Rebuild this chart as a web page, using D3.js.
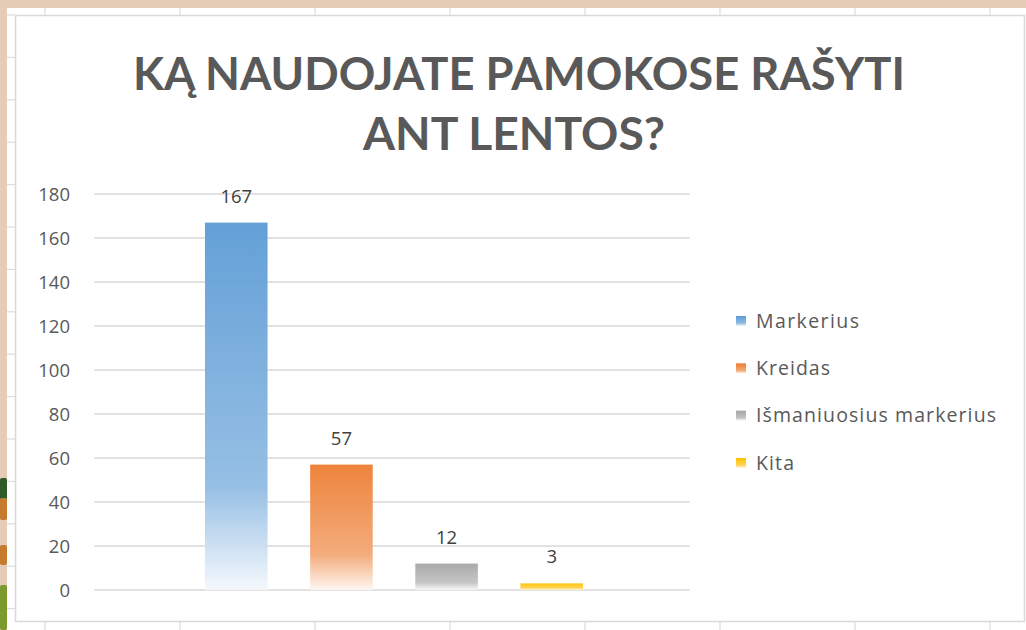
<!DOCTYPE html>
<html><head><meta charset="utf-8">
<script src="https://cdn.jsdelivr.net/npm/d3@7"></script>
<style>html,body{margin:0;padding:0;background:#fff;overflow:hidden}</style>
</head><body>
<svg id="chart" width="1026" height="630"></svg>
<script>
const titleLines = ["KĄ NAUDOJATE PAMOKOSE RAŠYTI", "ANT LENTOS?"];
const seriesNames = ["Markerius", "Kreidas", "Išmaniuosius markerius", "Kita"];
const seriesValues = [167, 57, 12, 3];
const seriesColors = ["#5b9bd5", "#ed7d31", "#a5a5a5", "#ffc000"];
const yTicks = [0, 20, 40, 60, 80, 100, 120, 140, 160, 180];

const svg = d3.select("#chart");
const defs = svg.append("defs");

// page background (slide + worksheet)
svg.append("rect").attr("x",0).attr("y",0).attr("width",1026).attr("height",630).attr("fill","#ffffff");
svg.append("rect").attr("x",0).attr("y",0).attr("width",1026).attr("height",8).attr("fill","#e4ccb6");
svg.append("rect").attr("x",0).attr("y",0).attr("width",7).attr("height",630).attr("fill","#e4ccb6");
// decorative shapes on left edge
const deco = [[478,22,"#2f5a2a"],[498,22,"#c67a2e"],[545,20,"#c67a2e"],[585,45,"#7a9a2e"]];
deco.forEach(d => svg.append("rect").attr("x",0).attr("y",d[0]).attr("width",7).attr("height",d[1]).attr("fill",d[2]).attr("rx",2));

// worksheet grid
const sheet = svg.append("g").attr("stroke","#dcdcdc").attr("stroke-width",1.2);
[45,180,315,450,585,720,855,990].forEach(x => {
  sheet.append("line").attr("x1",x).attr("x2",x).attr("y1",8).attr("y2",15);
  sheet.append("line").attr("x1",x).attr("x2",x).attr("y1",622).attr("y2",630);
});
d3.range(0,15).map(i => 15 + 42.4*i).forEach(y => {
  sheet.append("line").attr("x1",7).attr("x2",15).attr("y1",y).attr("y2",y);
});
// chart area
svg.append("rect").attr("x",15.5).attr("y",15.5).attr("width",1009).attr("height",606)
  .attr("fill","#ffffff").attr("stroke","#d9d9d9").attr("stroke-width",1.5);

// title
const title = svg.append("g").attr("font-family","Lato, 'Open Sans', sans-serif")
  .attr("font-weight","bold").attr("fill","#595959").attr("text-anchor","middle");
title.append("text").attr("x",519).attr("y",90).attr("font-size",46)
  .attr("textLength",772).attr("lengthAdjust","spacingAndGlyphs").text(titleLines[0]);
title.append("text").attr("x",514).attr("y",150).attr("font-size",46)
  .attr("textLength",302).attr("lengthAdjust","spacingAndGlyphs").text(titleLines[1]);

// scales
const y = d3.scaleLinear().domain([0,180]).range([590,194]);
const x = d3.scaleBand().domain(seriesNames).range([205,583]).paddingInner(0.405).paddingOuter(0);

// gridlines
const grid = svg.append("g");
grid.selectAll("line").data(yTicks).join("line")
  .attr("x1",94).attr("x2",690).attr("y1",d=>y(d)).attr("y2",d=>y(d))
  .attr("stroke","#d9d9d9").attr("stroke-width",1.5);

// y axis labels
const yAxis = d3.axisLeft(y).tickValues(yTicks).tickSize(0).tickPadding(0);
const ya = svg.append("g").attr("transform","translate(70,0)").call(yAxis);
ya.select(".domain").remove();
ya.selectAll("text").attr("font-family","'Open Sans', sans-serif").attr("font-size",18.5)
  .attr("fill","#595959").attr("dy","0.34em");

// gradients
function mix(c, t){ return d3.interpolateRgb(c, "#ffffff")(t); }
seriesColors.forEach((c,i) => {
  const g = defs.append("linearGradient").attr("id","g"+i).attr("x1",0).attr("y1",0).attr("x2",0).attr("y2",1);
  g.append("stop").attr("offset","0%").attr("stop-color",c);
  g.append("stop").attr("offset","72%").attr("stop-color",mix(c,0.33));
  g.append("stop").attr("offset","100%").attr("stop-color",mix(c,0.93));
});

// bars
svg.append("g").selectAll("rect").data(seriesNames).join("rect")
  .attr("x",d=>x(d)).attr("width",x.bandwidth())
  .attr("y",(d,i)=>y(seriesValues[i])).attr("height",(d,i)=>y(0)-y(seriesValues[i]))
  .attr("fill",(d,i)=>`url(#g${i})`).attr("fill-opacity",0.95);

// data labels
svg.append("g").selectAll("text").data(seriesNames).join("text")
  .attr("x",d=>x(d)+x.bandwidth()/2).attr("y",(d,i)=>y(seriesValues[i])-20)
  .attr("text-anchor","middle").attr("font-family","'Open Sans', sans-serif")
  .attr("font-size",18.5).attr("fill","#404040")
  .text((d,i)=>seriesValues[i]);

// legend
const legend = svg.append("g");
const ly = d3.scalePoint().domain(seriesNames).range([321,463]);
const legendWidths = [103, 74, 240, 38];
seriesNames.forEach((n,i) => {
  legend.append("rect").attr("x",736).attr("y",ly(n)-5).attr("width",10).attr("height",10)
    .attr("fill",`url(#g${i})`);
  legend.append("text").attr("x",756).attr("y",ly(n)).attr("dy","0.35em")
    .attr("font-family","'Open Sans', sans-serif").attr("font-size",19.5).attr("fill","#595959")
    .attr("textLength",legendWidths[i]).attr("lengthAdjust","spacing")
    .text(n);
});
</script>
</body></html>
